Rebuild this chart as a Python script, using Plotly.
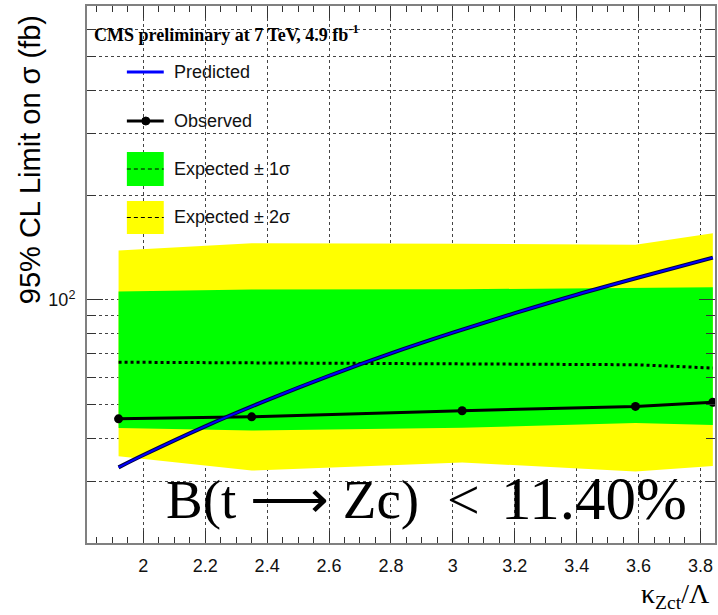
import plotly.graph_objects as go

# ---------------- data ----------------
kappa = [1.92, 2.35, 3.03, 3.59, 3.84]
observed = [45.5, 46.1, 48.0, 49.4, 50.8]
expected = [66.2, 65.9, 65.4, 65.1, 63.7]
exp_minus1 = [42.8, 42.1, 42.9, 44.3, 43.7]
exp_plus1 = [105.7, 107.1, 107.3, 108.0, 108.8]
exp_minus2 = [35.5, 32.3, 34.1, 32.1, 33.3]
exp_plus2 = [138.7, 145.6, 145.0, 144.0, 155.6]

kappa_pred = [1.92, 2.0, 2.2, 2.4, 2.6, 2.8, 3.0, 3.2, 3.4, 3.6, 3.84]
predicted = [33.0, 35.8, 43.3, 51.5, 60.5, 70.2, 80.5, 91.6, 103.5, 116.0, 132.3]

x_ticks = [2.0, 2.2, 2.4, 2.6, 2.8, 3.0, 3.2, 3.4, 3.6, 3.8]
x_ticktext = ["2", "2.2", "2.4", "2.6", "2.8", "3", "3.2", "3.4", "3.6", "3.8"]
y_major = [100]
y_minor = [20, 30, 40, 50, 60, 70, 80, 90, 200, 300, 400, 500, 600, 700]

W, H = 718, 615
ML, MR, MT, MB = 87, 1, 6, 72
PW, PH = W - ML - MR, H - MT - MB


def xp(px):
    return (px - ML) / PW


def yp(py):
    return 1 - (py - MT) / PH


SANS = "Liberation Sans, Arial, Helvetica, sans-serif"
SERIF = "Liberation Serif, Times New Roman, serif"

fig = go.Figure()

# 2 sigma band
fig.add_trace(go.Scatter(
    x=kappa + kappa[::-1], y=exp_plus2 + exp_minus2[::-1],
    fill="toself", fillcolor="#ffff00", line=dict(width=0, color="#ffff00"),
    mode="lines", hoverinfo="skip", showlegend=False))
# 1 sigma band
fig.add_trace(go.Scatter(
    x=kappa + kappa[::-1], y=exp_plus1 + exp_minus1[::-1],
    fill="toself", fillcolor="#00ff00", line=dict(width=0, color="#00ff00"),
    mode="lines", hoverinfo="skip", showlegend=False))
# expected
fig.add_trace(go.Scatter(
    x=kappa, y=expected, mode="lines",
    line=dict(color="black", width=3, dash="dot"), showlegend=False))
# observed
fig.add_trace(go.Scatter(
    x=kappa, y=observed, mode="lines+markers",
    line=dict(color="black", width=3), marker=dict(color="black", size=9),
    showlegend=False))
# predicted (dark outline + blue core)
fig.add_trace(go.Scatter(
    x=kappa_pred, y=predicted, mode="lines",
    line=dict(color="#000040", width=4, shape="spline"), showlegend=False))
fig.add_trace(go.Scatter(
    x=kappa_pred, y=predicted, mode="lines",
    line=dict(color="#0000ff", width=2, shape="spline"), showlegend=False))

axis_common = dict(
    showline=True, linecolor="#808080", linewidth=2, mirror="ticks",
    ticks="inside", tickcolor="#333", tickwidth=1,
    showgrid=True, gridcolor="#444", gridwidth=1, griddash="dot",
    zeroline=False,
    tickfont=dict(family=SANS, size=18, color="#111"),
)

fig.update_xaxes(
    range=[1.818, 3.847], tickmode="array", tickvals=x_ticks, ticktext=x_ticktext,
    ticklen=12, ticklabelstandoff=5,
    minor=dict(dtick=0.05, tick0=2.0, ticks="inside", ticklen=6, tickcolor="#333",
               showgrid=False),
    **axis_common)

fig.update_yaxes(
    type="log", range=[1.30103, 2.8451], tickmode="array", tickvals=y_major,
    ticktext=["10<sup>2</sup>"], ticklen=16, ticklabelstandoff=6,
    minor=dict(tickmode="array", tickvals=y_minor, ticks="inside", ticklen=9,
               tickcolor="#333", showgrid=True, gridcolor="#444", griddash="dot",
               gridwidth=1),
    **axis_common)

shapes = []
annotations = []

# Legend (drawn manually, ROOT style)
LX0, LX1 = 127, 164
# Predicted
shapes.append(dict(type="line", xref="paper", yref="paper",
                   x0=xp(LX0), x1=xp(LX1), y0=yp(72), y1=yp(72),
                   line=dict(color="#0000ff", width=3)))
# Observed
shapes.append(dict(type="line", xref="paper", yref="paper",
                   x0=xp(LX0), x1=xp(LX1), y0=yp(121), y1=yp(121),
                   line=dict(color="black", width=3)))
shapes.append(dict(type="circle", xref="paper", yref="paper",
                   x0=xp(142), x1=xp(150), y0=yp(125), y1=yp(117),
                   fillcolor="black", line=dict(color="black", width=1)))
# green box
shapes.append(dict(type="rect", xref="paper", yref="paper",
                   x0=xp(LX0), x1=xp(LX1), y0=yp(186), y1=yp(152),
                   fillcolor="#00ff00", line=dict(width=0)))
shapes.append(dict(type="line", xref="paper", yref="paper",
                   x0=xp(LX0), x1=xp(LX1), y0=yp(169), y1=yp(169),
                   line=dict(color="black", width=1, dash="4px,3px")))
# yellow box
shapes.append(dict(type="rect", xref="paper", yref="paper",
                   x0=xp(LX0), x1=xp(LX1), y0=yp(234), y1=yp(201),
                   fillcolor="#ffff00", line=dict(width=0)))
shapes.append(dict(type="line", xref="paper", yref="paper",
                   x0=xp(LX0), x1=xp(LX1), y0=yp(217.5), y1=yp(217.5),
                   line=dict(color="black", width=1, dash="4px,3px")))

leg_texts = [("Predicted", 72), ("Observed", 121),
             ("Expected ± 1σ", 169), ("Expected ± 2σ", 217.5)]
for t, py in leg_texts:
    annotations.append(dict(text=t, xref="paper", yref="paper", x=xp(172), y=yp(py),
                            xanchor="left", yanchor="middle", showarrow=False,
                            font=dict(family=SANS, size=18, color="#111")))

# Title
annotations.append(dict(text="<b>CMS preliminary at 7 TeV, 4.9 fb<sup>-1</sup></b>",
                        xref="paper", yref="paper", x=xp(92), y=yp(33),
                        xanchor="left", yanchor="middle", showarrow=False,
                        font=dict(family=SERIF, size=18, color="black")))

# Big text (pieces to mimic LaTeX spacing)
annotations.append(dict(text="B(t ⟶ Zc)",
                        xref="paper", yref="paper", x=xp(164), y=yp(499),
                        xanchor="left", yanchor="middle", showarrow=False,
                        font=dict(family=SERIF, size=55, color="black")))
annotations.append(dict(text="<",
                        xref="paper", yref="paper", x=xp(465), y=yp(499),
                        xanchor="center", yanchor="middle", showarrow=False,
                        font=dict(family=SERIF, size=58, color="black")))
annotations.append(dict(text="11.40%",
                        xref="paper", yref="paper", x=xp(691), y=yp(498),
                        xanchor="right", yanchor="middle", showarrow=False,
                        font=dict(family=SERIF, size=61, color="black")))

# Y title
annotations.append(dict(text="95% CL Limit on σ (fb)", textangle=-90,
                        xref="paper", yref="paper", x=xp(30), y=yp(160),
                        xanchor="center", yanchor="middle", showarrow=False,
                        font=dict(family=SANS, size=29, color="black")))
# X title
annotations.append(dict(text="κ<sub>Zct</sub>/Λ",
                        xref="paper", yref="paper", x=xp(714), y=yp(595),
                        xanchor="right", yanchor="middle", showarrow=False,
                        font=dict(family=SERIF, size=28, color="black")))

fig.update_layout(
    width=W, height=H,
    margin=dict(l=ML, r=MR, t=MT, b=MB),
    paper_bgcolor="white", plot_bgcolor="white",
    showlegend=False,
    shapes=shapes, annotations=annotations,
)

fig.write_html("out.html")
